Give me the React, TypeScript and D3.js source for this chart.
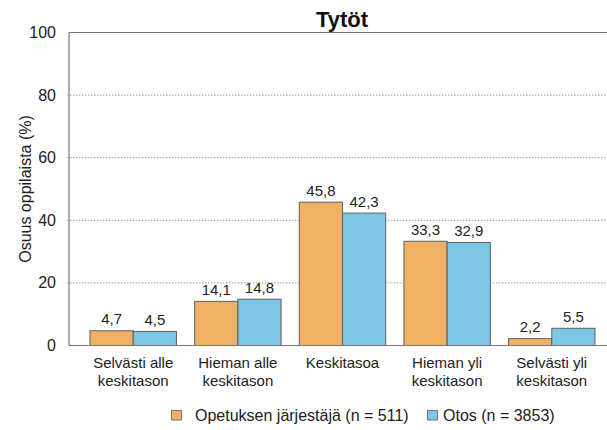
import React from "react";
import * as d3 from "d3";

const categories: string[][] = [
  ["Selvästi alle", "keskitason"],
  ["Hieman alle", "keskitason"],
  ["Keskitasoa"],
  ["Hieman yli", "keskitason"],
  ["Selvästi yli", "keskitason"],
];
const seriesNames = ["Opetuksen järjestäjä (n = 511)", "Otos (n = 3853)"];
const opetus = [4.7, 14.1, 45.8, 33.3, 2.2];
const otos = [4.5, 14.8, 42.3, 32.9, 5.5];
const yTicks = [0, 20, 40, 60, 80, 100];
const colors = ["#F0B066", "#7EC6E6"];

const font = "Liberation Sans, Arial, sans-serif";

export default function App() {
  const W = 607, H = 430;
  const left = 69, right = 640, top = 32.5, bottom = 345.5;
  const keys = categories.map((c) => c.join(" "));
  const x0 = d3.scaleBand<string>().domain(keys).range([80.9, 604.1]).paddingInner(0.174).paddingOuter(0.087);
  const x1 = d3.scaleBand<number>().domain([0, 1]).range([0, x0.bandwidth()]);
  const y = d3.scaleLinear().domain([0, 100]).range([bottom, top]);
  const series = [opetus, otos];
  const fmt = (v: number) => v.toFixed(1).replace(".", ",");

  return (
    <svg width={W} height={H} style={{ position: "absolute", left: 0, top: 0, background: "#fff" }} fontFamily={font}>
      <rect x={0} y={0} width={W} height={H} fill="#fff" />
      {yTicks.filter((t) => t > 0 && t < 100).map((t) => (
        <line key={t} x1={left - 2} x2={right} y1={y(t)} y2={y(t)} stroke="#999" strokeWidth={1} strokeDasharray="1.5,1.5" />
      ))}
      <line x1={left} x2={right} y1={top} y2={top} stroke="#777" strokeWidth={1.2} />
      <line x1={left} x2={left} y1={top} y2={bottom} stroke="#777" strokeWidth={1.2} />
      {yTicks.map((t) => (
        <text key={t} x={56} y={y(t) + 5.5} textAnchor="end" fontSize={16} fill="#222">{t}</text>
      ))}
      <text transform={`translate(31,${(top + bottom) / 2}) rotate(-90)`} textAnchor="middle" fontSize={16} fill="#222">Osuus oppilaista (%)</text>
      <text x={342} y={27} textAnchor="middle" fontSize={22} fontWeight="bold" fill="#111">Tytöt</text>
      {keys.map((k, i) => (
        <g key={k} transform={`translate(${x0(k)},0)`}>
          {series.map((s, j) => (
            <g key={j}>
              <rect x={x1(j)} y={y(s[i])} width={x1.bandwidth()} height={y(0) - y(s[i])} fill={colors[j]} stroke="#5f5f5f" strokeWidth={1} />
              <text x={(x1(j) as number) + x1.bandwidth() / 2} y={y(s[i]) - 6.5} textAnchor="middle" fontSize={15} fill="#222">{fmt(s[i])}</text>
            </g>
          ))}
          {categories[i].map((line, li) => (
            <text key={li} x={x0.bandwidth() / 2} y={368 + li * 17.5} textAnchor="middle" fontSize={15} fill="#222">{line}</text>
          ))}
        </g>
      ))}
      <line x1={left} x2={right} y1={bottom} y2={bottom} stroke="#777" strokeWidth={1.2} />
      <rect x={171.5} y={410.5} width={10} height={9.5} fill={colors[0]} stroke="#777" />
      <text x={195} y={421} fontSize={16} fill="#222">{seriesNames[0]}</text>
      <rect x={427.5} y={410.5} width={10} height={9.5} fill={colors[1]} stroke="#777" />
      <text x={443} y={421} fontSize={16} fill="#222">{seriesNames[1]}</text>
    </svg>
  );
}
